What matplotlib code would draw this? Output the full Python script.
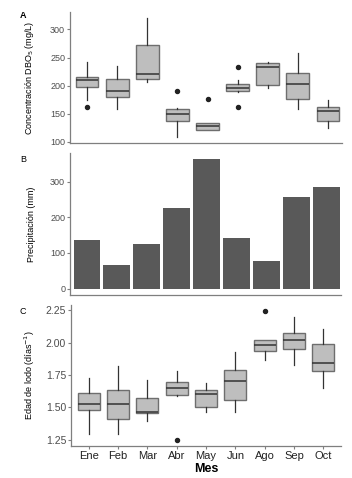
import matplotlib
matplotlib.use("Agg")
import matplotlib.pyplot as plt

plt.rcParams['font.family'] = ['Liberation Sans', 'DejaVu Sans']

months = ["Ene", "Feb", "Mar", "Abr", "May", "Jun", "Ago", "Sep", "Oct"]

# Panel A: DBO5 boxplot stats
dbo_whislo = [174, 159, 206, 109.4, 120.5, 188.3, 196, 159, 125]
dbo_q1     = [198, 180, 211.7, 138, 120.5, 190.6, 201, 176.6, 138]
dbo_med    = [210, 190.6, 221, 150.3, 128, 195.3, 232.7, 202.3, 155.6]
dbo_q3     = [215, 211.7, 272, 159, 132.7, 203, 240, 222.8, 162.6]
dbo_whishi = [242, 234.5, 321, 160.8, 132.7, 210, 242, 258, 173.7]
dbo_fliers = [[162], [], [], [191], [175.4], [234, 162], [], [], []]

# Panel B: precipitation
precip = [137, 67, 126, 226, 362, 142, 78, 257, 285]

# Panel C: sludge age boxplot stats
edad_whislo = [1.293, 1.293, 1.395, 1.587, 1.464, 1.464, 1.862, 1.824, 1.648]
edad_q1     = [1.482, 1.406, 1.457, 1.594, 1.505, 1.559, 1.934, 1.949, 1.781]
edad_med    = [1.528, 1.526, 1.462, 1.650, 1.602, 1.704, 1.982, 2.020, 1.844]
edad_q3     = [1.612, 1.635, 1.571, 1.696, 1.635, 1.788, 2.018, 2.071, 1.990]
edad_whishi = [1.727, 1.821, 1.714, 1.776, 1.684, 1.923, 2.018, 2.194, 2.107]
edad_fliers = [[], [], [], [1.25], [], [], [2.242], [], []]

W, H = 352, 478
fig = plt.figure(figsize=(W / 100, H / 100), dpi=100)

def rect(l, r, t, b):
    return [l / W, (H - b) / H, (r - l) / W, (b - t) / H]

axA = fig.add_axes(rect(70, 342, 12, 143))
axB = fig.add_axes(rect(70, 341, 153, 295))
axC = fig.add_axes(rect(71, 341, 305, 446))

spine_col = "#7f7f7f"
tick_col = "#4d4d4d"
box_fill = "#bebebe"
box_edge = "#6e6e6e"
line_col = "#333333"

def style(ax, yfs):
    for s in ["top", "right"]:
        ax.spines[s].set_visible(False)
    for s in ["left", "bottom"]:
        ax.spines[s].set_color(spine_col)
        ax.spines[s].set_linewidth(0.9)
    ax.tick_params(axis="y", colors=spine_col, labelcolor=tick_col,
                   labelsize=yfs, length=2.5, width=0.8, pad=1)

def boxes(ax, lo, q1, med, q3, hi, fl):
    stats = []
    for i in range(len(months)):
        stats.append(dict(whislo=lo[i], q1=q1[i], med=med[i], q3=q3[i],
                          whishi=hi[i], fliers=fl[i]))
    ax.bxp(stats, positions=range(1, len(months) + 1), widths=0.75,
           patch_artist=True, showcaps=False,
           boxprops=dict(facecolor=box_fill, edgecolor=box_edge, linewidth=1.0),
           medianprops=dict(color=line_col, linewidth=1.1),
           whiskerprops=dict(color=line_col, linewidth=0.9),
           flierprops=dict(marker="o", markerfacecolor="#222222",
                           markeredgecolor="#222222", markersize=2.9))

# Panel A
boxes(axA, dbo_whislo, dbo_q1, dbo_med, dbo_q3, dbo_whishi, dbo_fliers)
axA.set_xlim(0.43, 9.47)
axA.set_ylim(98, 331)
axA.set_yticks([100, 150, 200, 250, 300])
style(axA, 6.5)
axA.set_xticks([])
axA.set_ylabel("Concentración DBO$_5$ (mg/L)", fontsize=6.5, labelpad=3)

# Panel B
axB.bar(range(1, len(months) + 1), precip, width=0.9, color="#595959")
axB.set_xlim(0.43, 9.5)
axB.set_ylim(-18, 380)
axB.set_yticks([0, 100, 200, 300])
style(axB, 6.5)
axB.set_xticks([])
axB.set_ylabel("Precipitación (mm)", fontsize=6.5, labelpad=3)

# Panel C
boxes(axC, edad_whislo, edad_q1, edad_med, edad_q3, edad_whishi, edad_fliers)
axC.set_xlim(0.4, 9.6)
axC.set_ylim(1.20, 2.29)
axC.set_yticks([1.25, 1.50, 1.75, 2.00, 2.25])
axC.set_yticklabels(["1.25", "1.50", "1.75", "2.00", "2.25"])
style(axC, 7.5)
axC.set_xticks(range(1, len(months) + 1))
axC.set_xticklabels(months)
axC.tick_params(axis="x", colors=spine_col, labelcolor="#222222",
                labelsize=8, length=2.5, width=0.8, pad=1)
axC.set_ylabel("Edad de lodo (días$^{-1}$)", fontsize=6.5, labelpad=3)
axC.set_xlabel("Mes", fontsize=9, fontweight="bold", labelpad=1.5)

for ax in (axA, axB, axC):
    ax.yaxis.set_label_coords(-0.125, 0.5)

fig.text(20 / W, 1 - 16 / H, "A", fontsize=6.5, fontweight="bold", va="center", ha="left")
fig.text(20 / W, 1 - 160 / H, "B", fontsize=6.5, va="center", ha="left")
fig.text(20 / W, 1 - 311 / H, "C", fontsize=6.5, va="center", ha="left")

fig.savefig("out.png", dpi=100)
